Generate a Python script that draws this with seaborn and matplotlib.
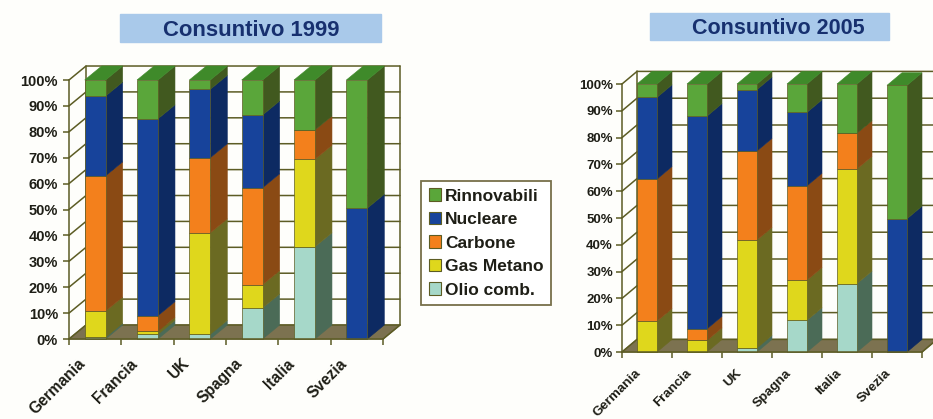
import matplotlib
matplotlib.use('Agg')
import matplotlib.pyplot as plt
from matplotlib.patches import Rectangle
from matplotlib.transforms import ScaledTranslation
import numpy as np
import seaborn as sns

paesi = ['Germania', 'Francia', 'UK', 'Spagna', 'Italia', 'Svezia']
fonti = ['Olio comb.', 'Gas Metano', 'Carbone', 'Nucleare', 'Rinnovabili']

# percent shares, bottom to top of each stack
olio_1999 = [0.7, 1.8, 1.8, 12.0, 35.6, 0]
gas_1999 = [10.1, 1.2, 39.2, 9.0, 33.8, 0]
carbone_1999 = [52.2, 6.0, 29.0, 37.4, 11.3, 0]
nucleare_1999 = [30.8, 76.0, 26.4, 28.1, 0, 50.5]
rinnovabili_1999 = [6.2, 15.0, 3.6, 13.5, 19.3, 49.5]

olio_2005 = [0, 0, 1.5, 11.8, 25.5, 0]
gas_2005 = [11.5, 4.3, 40.3, 15.0, 42.8, 0]
carbone_2005 = [53.0, 4.3, 33.2, 35.2, 13.3, 0]
nucleare_2005 = [30.5, 79.4, 22.9, 27.4, 0, 49.7]
rinnovabili_2005 = [5.0, 12.0, 2.1, 10.6, 18.4, 49.8]

colori = ['#a6d8c9', '#dfd71c', '#f3801c', '#17439b', '#5aa63a']
colori_lato = ['#4b6b57', '#6b6a22', '#8a4a14', '#0d2a62', '#41591f']
colore_cima = '#3f8a2a'
colore_assi = '#5c5c24'
colore_pavimento = '#7c7250'
colore_testo = '#1e1e16'

sns.set_theme(style='white')
plt.rcParams['font.family'] = ['Liberation Sans', 'DejaVu Sans']


def draw_chart(ax, valori, dx, dy, size, size_x, off_x, off_y, pad_y):
    # back wall, floor and grid
    ax.set_facecolor('none')
    ax.fill([-0.5, 5.5, 5.5 + dx, -0.5 + dx], [0, 0, dy, dy], color=colore_pavimento, zorder=1, clip_on=False)
    for v in range(0, 101, 10):
        ax.plot([-0.5, -0.5 + dx, 5.5 + dx], [v, v + dy, v + dy], color=colore_assi, lw=1.1, zorder=1.5, clip_on=False)
    ax.plot([5.5, 5.5 + dx], [0, dy], color=colore_assi, lw=1.1, zorder=1.5, clip_on=False)
    ax.plot([-0.5 + dx] * 2, [dy, 100 + dy], color=colore_assi, lw=1.1, zorder=1.5, clip_on=False)
    ax.plot([5.5 + dx] * 2, [dy, 100 + dy], color=colore_assi, lw=1.1, zorder=1.5, clip_on=False)

    base = np.zeros(6)
    larghezza = 0.4
    for i, serie in enumerate(valori):
        serie = np.array(serie, dtype=float)
        sns.barplot(x=paesi, y=serie, bottom=base, color=colori[i], saturation=1, width=larghezza,
                    ax=ax, zorder=4, edgecolor=colore_assi, linewidth=0.5, clip_on=False)
        # side face of each segment
        for k in range(6):
            if serie[k] == 0:
                continue
            x = k + larghezza / 2
            ax.fill([x, x + dx, x + dx, x],
                    [base[k], base[k] + dy, base[k] + serie[k] + dy, base[k] + serie[k]],
                    color=colori_lato[i], zorder=3, clip_on=False, lw=0.4)
        base = base + serie
    # top face of each stack
    for k in range(6):
        x0, x1 = k - larghezza / 2, k + larghezza / 2
        ax.fill([x0, x1, x1 + dx, x0 + dx], [base[k], base[k], base[k] + dy, base[k] + dy],
                color=colore_cima, zorder=3, clip_on=False, lw=0.4)

    ax.set_xlim(-0.5, 5.5)
    ax.set_ylim(0, 100)
    ax.set_yticks(range(0, 101, 10))
    ax.set_yticklabels([f'{v}%' for v in range(0, 101, 10)], fontsize=size, fontweight='bold', color=colore_testo)
    ax.set_xticks(np.arange(-0.5, 6, 1), minor=True)
    ax.set_xticks(range(6))
    ax.set_xticklabels(paesi, rotation=45, ha='right', rotation_mode='anchor',
                       fontsize=size_x, fontweight='bold', color=colore_testo)
    ax.tick_params(axis='x', which='major', length=0, pad=0)
    ax.tick_params(axis='x', which='minor', length=4, width=1.1, color=colore_assi, bottom=True)
    ax.tick_params(axis='y', length=4, width=1.1, color=colore_assi, pad=pad_y, left=True)
    # tick_params resets label transforms, so shift the labels after it
    sposta = ScaledTranslation(off_x / 100, off_y / 100, ax.figure.dpi_scale_trans)
    for lab in ax.get_xticklabels():
        lab.set_transform(lab.get_transform() + sposta)
    sns.despine(ax=ax)
    ax.spines['left'].set_color(colore_assi)
    ax.spines['bottom'].set_color(colore_assi)
    ax.spines['left'].set_linewidth(1.1)
    ax.spines['bottom'].set_linewidth(1.1)
    ax.spines['bottom'].set_zorder(6)


W, H = 933, 419
fig = plt.figure(figsize=(9.33, 4.19), dpi=100, facecolor='#fefefb')

ax1 = fig.add_axes([69 / W, (H - 339) / H, 314 / W, 259 / H])
ax2 = fig.add_axes([622 / W, (H - 352) / H, 300 / W, 268 / H])

draw_chart(ax1, [olio_1999, gas_1999, carbone_1999, nucleare_1999, rinnovabili_1999],
           0.325, 5.4, 10.5, 11.2, -18, -17, 4)
draw_chart(ax2, [olio_2005, gas_2005, carbone_2005, nucleare_2005, rinnovabili_2005],
           0.3, 4.7, 9.5, 9.6, -12, -15, 2.5)

# title bands
for x0, x1, y0, y1, cx, cy, testo, fs in [(120, 381, 14, 42, 251, 31, 'Consuntivo 1999', 15.9),
                                          (650, 889, 13, 40, 778, 29, 'Consuntivo 2005', 15.5)]:
    fig.patches.append(Rectangle((x0 / W, (H - y1) / H), (x1 - x0) / W, (y1 - y0) / H,
                                 transform=fig.transFigure, color='#a9c9ea', zorder=0))
    fig.text(cx / W, (H - cy) / H, testo, ha='center', va='center',
             fontsize=fs, fontweight='bold', color='#17306f')

# legend, reversed so it reads like the stack
handles = [Rectangle((0, 0), 1, 1, facecolor=c, edgecolor=colore_assi, lw=0.8) for c in colori[::-1]]
leg = fig.legend(handles, fonti[::-1], loc='center', bbox_to_anchor=(486 / W, (H - 243) / H),
                 frameon=True, fancybox=False, handlelength=0.7, handleheight=0.7,
                 handletextpad=0.25, labelspacing=0.48, borderpad=0.45, borderaxespad=0,
                 prop={'weight': 'bold', 'size': 12.5, 'family': 'Liberation Sans'})
leg.get_frame().set_edgecolor('#77704a')
leg.get_frame().set_linewidth(1.3)
leg.get_frame().set_facecolor('white')
leg.get_frame().set_alpha(1)
for t in leg.get_texts():
    t.set_color(colore_testo)

fig.savefig('out.png', dpi=100, facecolor=fig.get_facecolor())
